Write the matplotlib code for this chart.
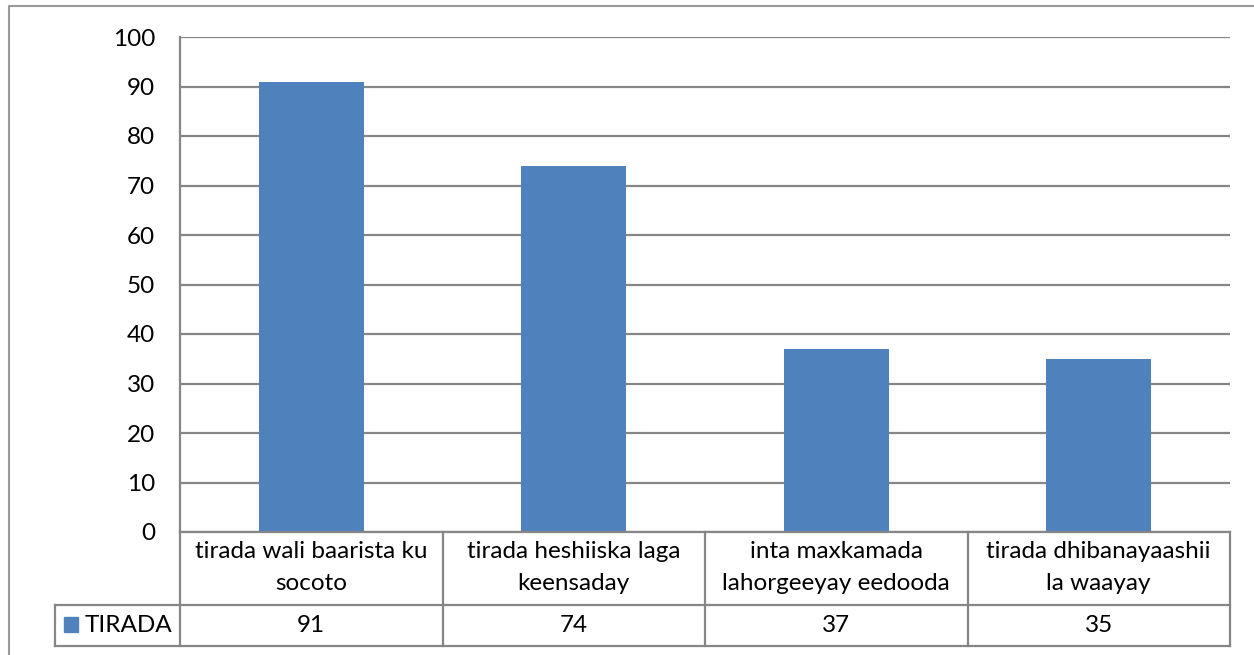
import matplotlib
matplotlib.use("Agg")
import matplotlib.pyplot as plt
from matplotlib.lines import Line2D
from matplotlib.patches import Rectangle
import matplotlib.transforms as mtransforms

categories = ["tirada wali baarista ku\nsocoto",
              "tirada heshiiska laga\nkeensaday",
              "inta maxkamada\nlahorgeeyay eedooda",
              "tirada dhibanayaashii\nla waayay"]
values = [91, 74, 37, 35]
series_name = "TIRADA"
yticks = [0, 10, 20, 30, 40, 50, 60, 70, 80, 90, 100]

W, H = 1254, 655
plt.rcParams['font.family'] = ['Lato', 'DejaVu Sans']
fig = plt.figure(figsize=(W / 100, H / 100), dpi=100)

def fx(px):
    return px / W

def fy(py):
    return 1 - py / H

grid_col = "#868686"
bar_col = "#4F81BD"
fs = 17.5

ax = fig.add_axes([fx(180), fy(532), fx(1230) - fx(180), fy(37) - fy(532)])
x = list(range(len(values)))
ax.bar(x, values, width=0.4, color=bar_col, zorder=3)
ax.set_xlim(-0.5, len(values) - 0.5)
ax.set_ylim(0, 100)
ax.set_yticks(yticks)
ax.set_yticklabels([str(t) for t in yticks], fontsize=fs)
ax.tick_params(axis='y', length=0, pad=18)
ax.set_xticks([])
ax.grid(axis='y', color=grid_col, linewidth=1.6, zorder=0)
for s in ["top", "right", "bottom"]:
    ax.spines[s].set_visible(False)
ax.spines["left"].set_color(grid_col)
ax.spines["left"].set_linewidth(1.6)

# data table
tr = mtransforms.blended_transform_factory(ax.transData, fig.transFigure)
y_top, y_mid, y_bot = fy(532), fy(605), fy(646)
lw = 1.6
n = len(values)
fig.add_artist(Line2D([-0.5, n - 0.5], [y_top, y_top], transform=tr, color=grid_col, lw=lw))
fig.add_artist(Line2D([fx(55), fx(1230)], [y_mid, y_mid], transform=fig.transFigure, color=grid_col, lw=lw))
fig.add_artist(Line2D([fx(55), fx(1230)], [y_bot, y_bot], transform=fig.transFigure, color=grid_col, lw=lw))
for i in range(n + 1):
    fig.add_artist(Line2D([i - 0.5, i - 0.5], [y_bot, y_top], transform=tr, color=grid_col, lw=lw))
fig.add_artist(Line2D([fx(55), fx(55)], [y_bot, y_mid], transform=fig.transFigure, color=grid_col, lw=lw))

for i, (c, v) in enumerate(zip(categories, values)):
    fig.text(i, (y_top + y_mid) / 2 + 0.002, c, transform=tr, ha='center', va='center',
             fontsize=fs, linespacing=1.65)
    fig.text(i, (y_mid + y_bot) / 2, str(v), transform=tr, ha='center', va='center',
             fontsize=fs)

# legend key
fig.add_artist(Rectangle((fx(64), fy(632)), fx(14), fy(617) - fy(632),
                         transform=fig.transFigure, color=bar_col))
fig.text(fx(85), (y_mid + y_bot) / 2, series_name, ha='left', va='center', fontsize=fs)

# outer chart border
fig.add_artist(Line2D([fx(9), fx(9), fx(1260)], [0, fy(6), fy(6)],
                      transform=fig.transFigure, color="#9a9a9a", lw=1.5))

fig.savefig("out.png", dpi=100)
